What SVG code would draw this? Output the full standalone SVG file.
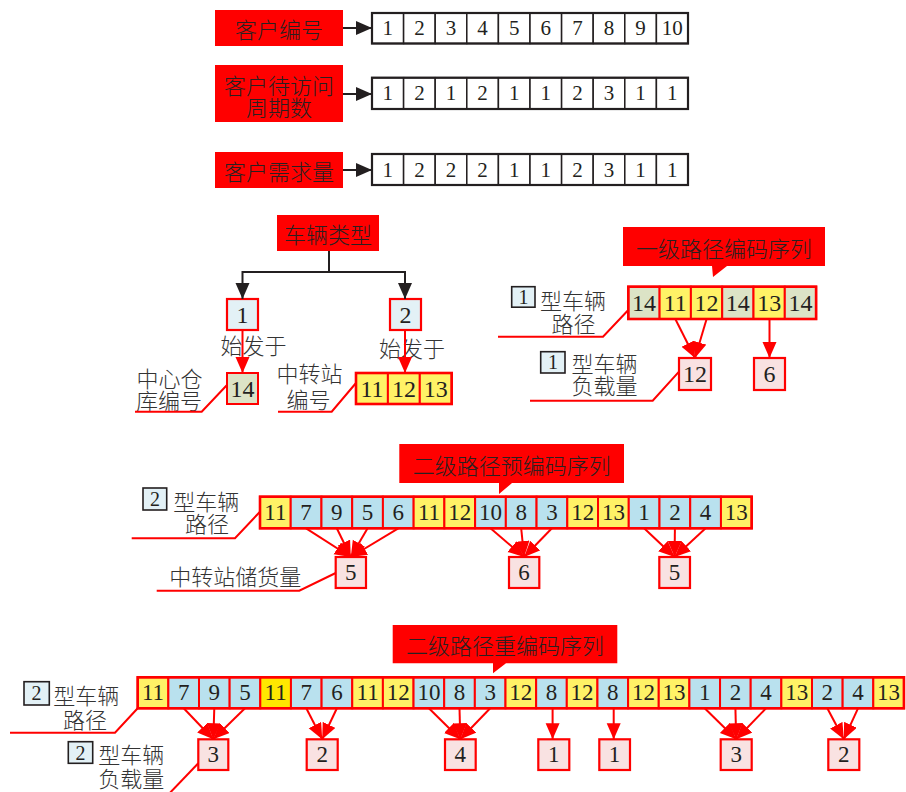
<svg xmlns="http://www.w3.org/2000/svg" width="906" height="792" viewBox="0 0 906 792">
<defs>
<style>
.cjk{font-family:"Noto Sans CJK SC","Noto Sans CJK JP",sans-serif;font-size:22px;font-weight:300;fill:#333;dominant-baseline:central}
.cjkc{font-family:"Noto Sans CJK SC","Noto Sans CJK JP",sans-serif;font-size:22px;font-weight:300;fill:#2a2020;dominant-baseline:central;text-anchor:middle}
.num{font-family:"Liberation Serif","Times New Roman",serif;fill:#231f20;text-anchor:middle;dominant-baseline:central;font-size:23px}
.n21{font-size:21px}
.n24{font-size:24px}
.n20{font-size:20px}
.redbox{fill:#ff0000}
.w{fill:#fff;stroke:#231f20;stroke-width:1.5}
.wo{fill:none;stroke:#231f20;stroke-width:2.2}
.y{fill:#fff266;stroke:#ff0000;stroke-width:2}
.yy{fill:#ffe800;stroke:#ff0000;stroke-width:2}
.b{fill:#b9e1ee;stroke:#ff0000;stroke-width:2}
.g{fill:#dce3c6;stroke:#ff0000;stroke-width:2}
.p{fill:#f9e2e2;stroke:#ff0000;stroke-width:2.2}
.lb{fill:#e3f1f6;stroke:#ff0000;stroke-width:2.2}
.kb{fill:#e3f1f6;stroke:#231f20;stroke-width:1.6}
.ro{fill:none;stroke:#ff0000;stroke-width:2.6}
.ra{stroke:#ff0000;stroke-width:2;fill:none;marker-end:url(#rh)}
.ka{stroke:#231f20;stroke-width:2;fill:none;marker-end:url(#kh)}
.kl{stroke:#231f20;stroke-width:2;fill:none}
.lead{stroke:#ff0000;stroke-width:2;fill:none}
</style>
<marker id="rh" markerUnits="userSpaceOnUse" markerWidth="17" markerHeight="15" refX="16" refY="7" orient="auto" viewBox="0 0 17 15">
<path d="M0,0 L16,7 L0,14 Z" fill="#ff0000"/>
</marker>
<marker id="kh" markerUnits="userSpaceOnUse" markerWidth="17" markerHeight="15" refX="16" refY="7" orient="auto" viewBox="0 0 17 15">
<path d="M0,0 L16,7 L0,14 Z" fill="#231f20"/>
</marker>
</defs>

<!-- Top section -->
<g id="label-custno">
<rect class="redbox" x="215" y="10" width="128" height="36"/>
<text class="cjkc" x="279" y="28">客户编号</text>
</g>
<g id="row-custno">
<rect class="w" x="372" y="13" width="31.6" height="30.5"/>
<rect class="w" x="403.6" y="13" width="31.6" height="30.5"/>
<rect class="w" x="435.2" y="13" width="31.6" height="30.5"/>
<rect class="w" x="466.8" y="13" width="31.6" height="30.5"/>
<rect class="w" x="498.4" y="13" width="31.6" height="30.5"/>
<rect class="w" x="530" y="13" width="31.6" height="30.5"/>
<rect class="w" x="561.6" y="13" width="31.6" height="30.5"/>
<rect class="w" x="593.2" y="13" width="31.6" height="30.5"/>
<rect class="w" x="624.8" y="13" width="31.6" height="30.5"/>
<rect class="w" x="656.4" y="13" width="31.6" height="30.5"/>
<rect class="wo" x="372" y="13" width="316" height="30.5"/>
<text class="num n21" x="387.8" y="28.2">1</text>
<text class="num n21" x="419.4" y="28.2">2</text>
<text class="num n21" x="451" y="28.2">3</text>
<text class="num n21" x="482.6" y="28.2">4</text>
<text class="num n21" x="514.2" y="28.2">5</text>
<text class="num n21" x="545.8" y="28.2">6</text>
<text class="num n21" x="577.4" y="28.2">7</text>
<text class="num n21" x="609" y="28.2">8</text>
<text class="num n21" x="640.6" y="28.2">9</text>
<text class="num n21" x="672.2" y="28.2">10</text>
</g>

<g id="label-period">
<rect class="redbox" x="215" y="65" width="128" height="57"/>
<text class="cjkc"><tspan x="279" y="83.5">客户待访问</tspan><tspan x="279" y="106">周期数</tspan></text>
</g>
<g id="row-period">
<rect class="w" x="372" y="77.7" width="31.6" height="31.3"/>
<rect class="w" x="403.6" y="77.7" width="31.6" height="31.3"/>
<rect class="w" x="435.2" y="77.7" width="31.6" height="31.3"/>
<rect class="w" x="466.8" y="77.7" width="31.6" height="31.3"/>
<rect class="w" x="498.4" y="77.7" width="31.6" height="31.3"/>
<rect class="w" x="530" y="77.7" width="31.6" height="31.3"/>
<rect class="w" x="561.6" y="77.7" width="31.6" height="31.3"/>
<rect class="w" x="593.2" y="77.7" width="31.6" height="31.3"/>
<rect class="w" x="624.8" y="77.7" width="31.6" height="31.3"/>
<rect class="w" x="656.4" y="77.7" width="31.6" height="31.3"/>
<rect class="wo" x="372" y="77.7" width="316" height="31.3"/>
<text class="num n21" x="387.8" y="93.4">1</text>
<text class="num n21" x="419.4" y="93.4">2</text>
<text class="num n21" x="451" y="93.4">1</text>
<text class="num n21" x="482.6" y="93.4">2</text>
<text class="num n21" x="514.2" y="93.4">1</text>
<text class="num n21" x="545.8" y="93.4">1</text>
<text class="num n21" x="577.4" y="93.4">2</text>
<text class="num n21" x="609" y="93.4">3</text>
<text class="num n21" x="640.6" y="93.4">1</text>
<text class="num n21" x="672.2" y="93.4">1</text>
</g>

<g id="label-demand">
<rect class="redbox" x="215" y="152" width="128" height="36"/>
<text class="cjkc" x="279" y="170">客户需求量</text>
</g>
<g id="row-demand">
<rect class="w" x="372" y="154" width="31.6" height="31"/>
<rect class="w" x="403.6" y="154" width="31.6" height="31"/>
<rect class="w" x="435.2" y="154" width="31.6" height="31"/>
<rect class="w" x="466.8" y="154" width="31.6" height="31"/>
<rect class="w" x="498.4" y="154" width="31.6" height="31"/>
<rect class="w" x="530" y="154" width="31.6" height="31"/>
<rect class="w" x="561.6" y="154" width="31.6" height="31"/>
<rect class="w" x="593.2" y="154" width="31.6" height="31"/>
<rect class="w" x="624.8" y="154" width="31.6" height="31"/>
<rect class="w" x="656.4" y="154" width="31.6" height="31"/>
<rect class="wo" x="372" y="154" width="316" height="31"/>
<text class="num n21" x="387.8" y="169.5">1</text>
<text class="num n21" x="419.4" y="169.5">2</text>
<text class="num n21" x="451" y="169.5">2</text>
<text class="num n21" x="482.6" y="169.5">2</text>
<text class="num n21" x="514.2" y="169.5">1</text>
<text class="num n21" x="545.8" y="169.5">1</text>
<text class="num n21" x="577.4" y="169.5">2</text>
<text class="num n21" x="609" y="169.5">3</text>
<text class="num n21" x="640.6" y="169.5">1</text>
<text class="num n21" x="672.2" y="169.5">1</text>
</g>

<!-- Section 2: vehicle types -->
<g id="vtype">
<rect class="redbox" x="277" y="215" width="102" height="36"/>
<text class="cjkc" x="328" y="233">车辆类型</text>
</g>
<g id="vt1">
<rect class="lb" x="227" y="299" width="31" height="31"/>
<text class="num n24" x="242.5" y="314.5">1</text>
</g>
<g id="vt2">
<rect class="lb" x="390" y="299" width="31" height="31"/>
<text class="num n24" x="405.5" y="314.5">2</text>
</g>
<g id="depot14">
<rect class="g" x="227" y="373" width="31" height="31"/>
<text class="num n24" x="242.5" y="388.5">14</text>
</g>
<g id="transfer">
<rect class="y" x="356" y="373" width="31.9" height="31"/>
<rect class="y" x="387.9" y="373" width="31.9" height="31"/>
<rect class="y" x="419.8" y="373" width="31.9" height="31"/>
<rect class="ro" x="356" y="373" width="95.7" height="31"/>
<text class="num n24" x="372" y="388.5">11</text>
<text class="num n24" x="403.9" y="388.5">12</text>
<text class="num n24" x="435.8" y="388.5">13</text>
</g>
<g id="labels-sec2">
<text class="cjk" x="220.5" y="343.5">始发于</text>
<text class="cjk" x="379" y="346.5">始发于</text>
<text class="cjk"><tspan x="136.5" y="377">中心仓</tspan><tspan x="136" y="399">库编号</tspan></text>
<text class="cjk"><tspan x="276.5" y="372">中转站</tspan><tspan x="286.5" y="397.5">编号</tspan></text>
</g>

<!-- Section 3: first-level route -->
<g id="callout1">
<path class="redbox" d="M623,227 H825 V266 H727 L713,277 L712,266 H623 Z"/>
<text class="cjkc" x="724" y="246.5">一级路径编码序列</text>
</g>
<g id="route1">
<rect class="g" x="628.3" y="286.7" width="31.3" height="32.3"/>
<rect class="y" x="659.6" y="286.7" width="31.3" height="32.3"/>
<rect class="y" x="690.9" y="286.7" width="31.3" height="32.3"/>
<rect class="g" x="722.2" y="286.7" width="31.3" height="32.3"/>
<rect class="y" x="753.5" y="286.7" width="31.3" height="32.3"/>
<rect class="g" x="784.8" y="286.7" width="31.3" height="32.3"/>
<rect class="ro" x="628.3" y="286.7" width="187.8" height="32.3"/>
<text class="num n24" x="643.95" y="302.85">14</text>
<text class="num n24" x="675.25" y="302.85">11</text>
<text class="num n24" x="706.55" y="302.85">12</text>
<text class="num n24" x="737.85" y="302.85">14</text>
<text class="num n24" x="769.15" y="302.85">13</text>
<text class="num n24" x="800.45" y="302.85">14</text>
</g>
<g id="load1a">
<rect class="p" x="679" y="358" width="32" height="32"/>
<text class="num n24" x="695" y="374">12</text>
</g>
<g id="load1b">
<rect class="p" x="754" y="358" width="31" height="32"/>
<text class="num n24" x="769.5" y="374">6</text>
</g>
<g id="labels-sec3">
<rect class="kb" x="511.7" y="286.7" width="23.3" height="20.5"/>
<text class="num n20" x="523.4" y="297">1</text>
<text class="cjk"><tspan x="540" y="299">型车辆</tspan><tspan x="551.5" y="321.5">路径</tspan></text>
<rect class="kb" x="540.7" y="351.7" width="24.3" height="21.3"/>
<text class="num n20" x="552.9" y="362.4">1</text>
<text class="cjk"><tspan x="571.5" y="362.3">型车辆</tspan><tspan x="571.5" y="384">负载量</tspan></text>
</g>

<!-- Section 4: second-level pre-encoding -->
<g id="callout2">
<path class="redbox" d="M399.3,444 H624 V483 H512 L499,494 L499,483 H399.3 Z"/>
<text class="cjkc" x="511.7" y="463.5">二级路径预编码序列</text>
</g>
<g id="route2pre">
<rect class="y" x="260" y="496.7" width="30.73" height="31.6"/>
<rect class="b" x="290.73" y="496.7" width="30.73" height="31.6"/>
<rect class="b" x="321.46" y="496.7" width="30.73" height="31.6"/>
<rect class="b" x="352.19" y="496.7" width="30.73" height="31.6"/>
<rect class="b" x="382.92" y="496.7" width="30.73" height="31.6"/>
<rect class="y" x="413.65" y="496.7" width="30.73" height="31.6"/>
<rect class="y" x="444.38" y="496.7" width="30.73" height="31.6"/>
<rect class="b" x="475.11" y="496.7" width="30.73" height="31.6"/>
<rect class="b" x="505.84" y="496.7" width="30.73" height="31.6"/>
<rect class="b" x="536.57" y="496.7" width="30.73" height="31.6"/>
<rect class="y" x="567.3" y="496.7" width="30.73" height="31.6"/>
<rect class="y" x="598.03" y="496.7" width="30.73" height="31.6"/>
<rect class="b" x="628.76" y="496.7" width="30.73" height="31.6"/>
<rect class="b" x="659.49" y="496.7" width="30.73" height="31.6"/>
<rect class="b" x="690.22" y="496.7" width="30.73" height="31.6"/>
<rect class="y" x="720.95" y="496.7" width="30.73" height="31.6"/>
<rect class="ro" x="260" y="496.7" width="491.68" height="31.6"/>
<text class="num" x="275.4" y="512.5">11</text>
<text class="num" x="306.1" y="512.5">7</text>
<text class="num" x="336.8" y="512.5">9</text>
<text class="num" x="367.6" y="512.5">5</text>
<text class="num" x="398.3" y="512.5">6</text>
<text class="num" x="429" y="512.5">11</text>
<text class="num" x="459.7" y="512.5">12</text>
<text class="num" x="490.5" y="512.5">10</text>
<text class="num" x="521.2" y="512.5">8</text>
<text class="num" x="551.9" y="512.5">3</text>
<text class="num" x="582.7" y="512.5">12</text>
<text class="num" x="613.4" y="512.5">13</text>
<text class="num" x="644.1" y="512.5">1</text>
<text class="num" x="674.9" y="512.5">2</text>
<text class="num" x="705.6" y="512.5">4</text>
<text class="num" x="736.3" y="512.5">13</text>
</g>
<g id="store-a">
<rect class="p" x="335.7" y="557" width="30.3" height="31"/>
<text class="num" x="350.8" y="572.5">5</text>
</g>
<g id="store-b">
<rect class="p" x="509" y="557" width="30.3" height="31"/>
<text class="num" x="524.1" y="572.5">6</text>
</g>
<g id="store-c">
<rect class="p" x="659.3" y="557" width="30.7" height="31"/>
<text class="num" x="674.6" y="572.5">5</text>
</g>
<g id="labels-sec4">
<rect class="kb" x="143" y="488" width="23.7" height="22"/>
<text class="num n20" x="154.9" y="499">2</text>
<text class="cjk"><tspan x="173.3" y="500">型车辆</tspan><tspan x="185" y="521.7">路径</tspan></text>
<text class="cjk" x="169.3" y="575">中转站储货量</text>
</g>

<!-- Section 5: second-level re-encoding -->
<g id="callout3">
<path class="redbox" d="M392.7,625 H617.3 V663.3 H506 L493,673.3 L493,663.3 H392.7 Z"/>
<text class="cjkc" x="505" y="644">二级路径重编码序列</text>
</g>
<g id="route2re">
<rect class="y" x="137.7" y="677.3" width="30.65" height="31"/>
<rect class="b" x="168.35" y="677.3" width="30.65" height="31"/>
<rect class="b" x="199" y="677.3" width="30.65" height="31"/>
<rect class="b" x="229.65" y="677.3" width="30.65" height="31"/>
<rect class="yy" x="260.3" y="677.3" width="30.65" height="31"/>
<rect class="b" x="290.95" y="677.3" width="30.65" height="31"/>
<rect class="b" x="321.6" y="677.3" width="30.65" height="31"/>
<rect class="y" x="352.25" y="677.3" width="30.65" height="31"/>
<rect class="y" x="382.9" y="677.3" width="30.65" height="31"/>
<rect class="b" x="413.55" y="677.3" width="30.65" height="31"/>
<rect class="b" x="444.2" y="677.3" width="30.65" height="31"/>
<rect class="b" x="474.85" y="677.3" width="30.65" height="31"/>
<rect class="y" x="505.5" y="677.3" width="30.65" height="31"/>
<rect class="b" x="536.15" y="677.3" width="30.65" height="31"/>
<rect class="y" x="566.8" y="677.3" width="30.65" height="31"/>
<rect class="b" x="597.45" y="677.3" width="30.65" height="31"/>
<rect class="y" x="628.1" y="677.3" width="30.65" height="31"/>
<rect class="y" x="658.75" y="677.3" width="30.65" height="31"/>
<rect class="b" x="689.4" y="677.3" width="30.65" height="31"/>
<rect class="b" x="720.05" y="677.3" width="30.65" height="31"/>
<rect class="b" x="750.7" y="677.3" width="30.65" height="31"/>
<rect class="y" x="781.35" y="677.3" width="30.65" height="31"/>
<rect class="b" x="812" y="677.3" width="30.65" height="31"/>
<rect class="b" x="842.65" y="677.3" width="30.65" height="31"/>
<rect class="y" x="873.3" y="677.3" width="30.65" height="31"/>
<rect class="ro" x="137.7" y="677.3" width="766.25" height="31"/>
<text class="num" x="153" y="692.8">11</text>
<text class="num" x="183.7" y="692.8">7</text>
<text class="num" x="214.3" y="692.8">9</text>
<text class="num" x="245" y="692.8">5</text>
<text class="num" x="275.6" y="692.8">11</text>
<text class="num" x="306.3" y="692.8">7</text>
<text class="num" x="336.9" y="692.8">6</text>
<text class="num" x="367.6" y="692.8">11</text>
<text class="num" x="398.2" y="692.8">12</text>
<text class="num" x="428.9" y="692.8">10</text>
<text class="num" x="459.5" y="692.8">8</text>
<text class="num" x="490.2" y="692.8">3</text>
<text class="num" x="520.8" y="692.8">12</text>
<text class="num" x="551.5" y="692.8">8</text>
<text class="num" x="582.1" y="692.8">12</text>
<text class="num" x="612.8" y="692.8">8</text>
<text class="num" x="643.4" y="692.8">12</text>
<text class="num" x="674.1" y="692.8">13</text>
<text class="num" x="704.7" y="692.8">1</text>
<text class="num" x="735.4" y="692.8">2</text>
<text class="num" x="766" y="692.8">4</text>
<text class="num" x="796.7" y="692.8">13</text>
<text class="num" x="827.3" y="692.8">2</text>
<text class="num" x="858" y="692.8">4</text>
<text class="num" x="888.6" y="692.8">13</text>
</g>
<g id="load2a">
<rect class="p" x="198.3" y="739.3" width="30" height="30.7"/>
<text class="num" x="213.3" y="754.6">3</text>
</g>
<g id="load2b">
<rect class="p" x="306.7" y="739.3" width="31" height="30.7"/>
<text class="num" x="322.2" y="754.6">2</text>
</g>
<g id="load2c">
<rect class="p" x="445" y="739.3" width="30.7" height="30.7"/>
<text class="num" x="460.3" y="754.6">4</text>
</g>
<g id="load2d">
<rect class="p" x="538.3" y="739.3" width="31" height="30.7"/>
<text class="num" x="553.8" y="754.6">1</text>
</g>
<g id="load2e">
<rect class="p" x="599.3" y="739.3" width="30.7" height="30.7"/>
<text class="num" x="614.6" y="754.6">1</text>
</g>
<g id="load2f">
<rect class="p" x="720.7" y="739.3" width="31" height="30.7"/>
<text class="num" x="736.2" y="754.6">3</text>
</g>
<g id="load2g">
<rect class="p" x="828.3" y="739.3" width="31" height="30.7"/>
<text class="num" x="843.8" y="754.6">2</text>
</g>
<g id="labels-sec5">
<rect class="kb" x="24" y="681.7" width="25.3" height="23.3"/>
<text class="num n20" x="36.6" y="693.3">2</text>
<text class="cjk"><tspan x="53.3" y="694">型车辆</tspan><tspan x="63" y="717.5">路径</tspan></text>
<rect class="kb" x="68.3" y="741.7" width="24.4" height="21.6"/>
<text class="num n20" x="80.5" y="752.5">2</text>
<text class="cjk"><tspan x="98.3" y="753">型车辆</tspan><tspan x="98.3" y="776.7">负载量</tspan></text>
</g>

<!-- Connectors -->
<g id="connectors">
<line class="ka" x1="343" y1="28" x2="372" y2="28"/>
<line class="ka" x1="343" y1="94" x2="372" y2="94"/>
<line class="ka" x1="343" y1="170" x2="372" y2="170"/>
<path class="kl" d="M329,251 V272 M242,272 H405"/>
<line class="ka" x1="242.5" y1="271" x2="242.5" y2="299"/>
<line class="ka" x1="405" y1="271" x2="405" y2="299"/>
<line class="ra" x1="242.5" y1="330" x2="242.5" y2="373"/>
<line class="ra" x1="405" y1="330" x2="405" y2="373"/>
<path class="lead" d="M135,411.7 H201.7 L227,385"/>
<path class="lead" d="M278,411.7 H331.7 L356,383"/>

<path class="lead" d="M498,336.7 H603 L628.3,310"/>
<line class="ra" x1="675.3" y1="319" x2="695" y2="358"/>
<line class="ra" x1="706.6" y1="319" x2="695" y2="358"/>
<line class="ra" x1="769.5" y1="319" x2="769.5" y2="358"/>
<path class="lead" d="M530,400.7 H652.7 L679,371.7"/>

<path class="lead" d="M131.7,538.3 H235 L260,511.7"/>
<path class="lead" d="M156.7,590.7 H299.3 L335.7,573"/>
<line class="ra" x1="306.1" y1="528.3" x2="350.8" y2="557"/>
<line class="ra" x1="336.8" y1="528.3" x2="350.8" y2="557"/>
<line class="ra" x1="367.6" y1="528.3" x2="350.8" y2="557"/>
<line class="ra" x1="398.3" y1="528.3" x2="350.8" y2="557"/>
<line class="ra" x1="490.5" y1="528.3" x2="524.1" y2="557"/>
<line class="ra" x1="521.2" y1="528.3" x2="524.1" y2="557"/>
<line class="ra" x1="551.9" y1="528.3" x2="524.1" y2="557"/>
<line class="ra" x1="644.1" y1="528.3" x2="674.6" y2="557"/>
<line class="ra" x1="674.9" y1="528.3" x2="674.6" y2="557"/>
<line class="ra" x1="705.6" y1="528.3" x2="674.6" y2="557"/>

<path class="lead" d="M10,732.7 H115 L137.7,708.3"/>
<path class="lead" d="M165,798 L198.3,763.3"/>
<line class="ra" x1="183.7" y1="708.3" x2="213.3" y2="739.3"/>
<line class="ra" x1="214.3" y1="708.3" x2="213.3" y2="739.3"/>
<line class="ra" x1="245" y1="708.3" x2="213.3" y2="739.3"/>
<line class="ra" x1="306.3" y1="708.3" x2="322.2" y2="739.3"/>
<line class="ra" x1="336.9" y1="708.3" x2="322.2" y2="739.3"/>
<line class="ra" x1="428.9" y1="708.3" x2="460.3" y2="739.3"/>
<line class="ra" x1="459.5" y1="708.3" x2="460.3" y2="739.3"/>
<line class="ra" x1="490.2" y1="708.3" x2="460.3" y2="739.3"/>
<line class="ra" x1="552.6" y1="708.3" x2="552.6" y2="739.3"/>
<line class="ra" x1="613.7" y1="708.3" x2="613.7" y2="739.3"/>
<line class="ra" x1="704.7" y1="708.3" x2="736.2" y2="739.3"/>
<line class="ra" x1="735.4" y1="708.3" x2="736.2" y2="739.3"/>
<line class="ra" x1="766" y1="708.3" x2="736.2" y2="739.3"/>
<line class="ra" x1="827.3" y1="708.3" x2="843.8" y2="739.3"/>
<line class="ra" x1="858" y1="708.3" x2="843.8" y2="739.3"/>
</g>
</svg>
